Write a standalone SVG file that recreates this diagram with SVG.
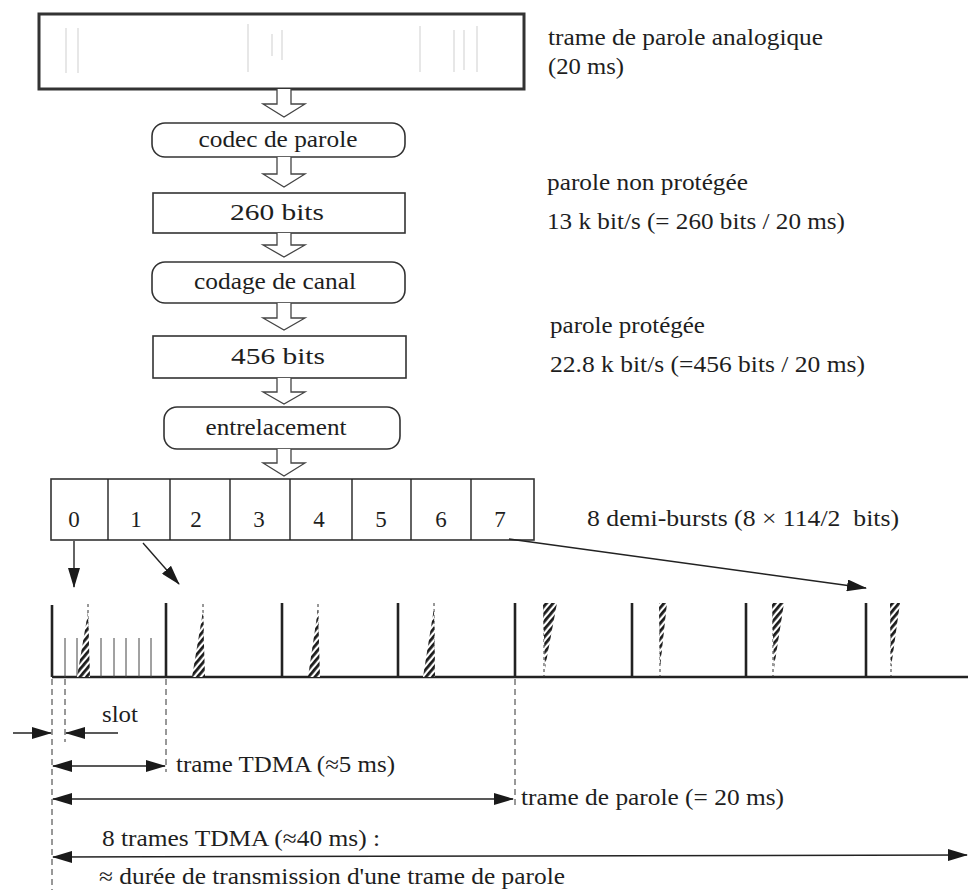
<svg xmlns="http://www.w3.org/2000/svg" width="968" height="890" viewBox="0 0 968 890">
<defs>
<style>
.t{font-family:'Liberation Serif','Times New Roman',Times,serif;font-size:23px;fill:#1e1e1e}
.box{fill:#fff;stroke:#333;stroke-width:1.6}
.hol{fill:#fff;stroke:#444;stroke-width:1.3;stroke-linejoin:miter}
.ln{stroke:#222;stroke-width:1.4;fill:none}
.tall{stroke:#222;stroke-width:2.6}
.thin{stroke:#444;stroke-width:1}
.dash{stroke:#333;stroke-width:1;stroke-dasharray:6 4;fill:none}
.dsh{stroke:#333;stroke-width:1;stroke-dasharray:3 3}
.faint{stroke:#cfcfcf;stroke-width:1}
</style>
<marker id="ah" viewBox="0 0 20 12" markerWidth="20" markerHeight="12" refX="19" refY="6" orient="auto-start-reverse" markerUnits="userSpaceOnUse">
<path d="M0,0 L20,6 L0,12 z" fill="#1a1a1a"/>
</marker>
<pattern id="hatch" patternUnits="userSpaceOnUse" width="5" height="5" patternTransform="rotate(40)">
<rect width="5" height="5" fill="#fff"/>
<rect width="2.8" height="5" fill="#1a1a1a"/>
</pattern>
</defs>
<rect width="968" height="890" fill="#fff"/>

<g id="trame-analogique">
<rect x="39" y="14" width="485" height="75" fill="#fff" stroke="#333" stroke-width="3"/>
<g class="faint">
<line x1="66" y1="28" x2="66" y2="73"/><line x1="78" y1="28" x2="78" y2="73"/>
<line x1="248" y1="24" x2="248" y2="72"/><line x1="272" y1="34" x2="272" y2="56"/><line x1="282" y1="30" x2="282" y2="60"/>
<line x1="420" y1="26" x2="420" y2="72"/><line x1="454" y1="30" x2="454" y2="72"/><line x1="464" y1="30" x2="464" y2="70"/><line x1="477" y1="26" x2="477" y2="72"/>
</g>
<text class="t" x="548" y="45" textLength="275" lengthAdjust="spacingAndGlyphs">trame de parole analogique</text>
<text class="t" x="548" y="74" textLength="76" lengthAdjust="spacingAndGlyphs">(20 ms)</text>
</g>

<g id="codec">
<rect class="box" x="152" y="123" width="253" height="34" rx="13"/>
<text class="t" x="278" y="147" text-anchor="middle" textLength="159" lengthAdjust="spacingAndGlyphs">codec de parole</text>
</g>

<g id="bits260">
<rect class="box" x="153" y="193" width="252" height="40"/>
<text class="t" x="277" y="220" text-anchor="middle" textLength="94" lengthAdjust="spacingAndGlyphs">260 bits</text>
<text class="t" x="547" y="190" textLength="201" lengthAdjust="spacingAndGlyphs">parole non protégée</text>
<text class="t" x="547" y="229" textLength="298" lengthAdjust="spacingAndGlyphs">13 k bit/s (= 260 bits / 20 ms)</text>
</g>

<g id="codage">
<rect class="box" x="152" y="262" width="253" height="41" rx="13"/>
<text class="t" x="275" y="289" text-anchor="middle" textLength="162" lengthAdjust="spacingAndGlyphs">codage de canal</text>
</g>

<g id="bits456">
<rect class="box" x="153" y="336" width="253" height="42"/>
<text class="t" x="278" y="364" text-anchor="middle" textLength="94" lengthAdjust="spacingAndGlyphs">456 bits</text>
<text class="t" x="550" y="333" textLength="155" lengthAdjust="spacingAndGlyphs">parole protégée</text>
<text class="t" x="550" y="372" textLength="315" lengthAdjust="spacingAndGlyphs">22.8 k bit/s (=456 bits / 20 ms)</text>
</g>

<g id="entrelacement">
<rect class="box" x="164" y="407" width="236" height="42" rx="13"/>
<text class="t" x="276" y="435" text-anchor="middle" textLength="141" lengthAdjust="spacingAndGlyphs">entrelacement</text>
</g>

<g id="demi-bursts">
<rect class="box" x="51" y="479" width="483" height="61"/>
<g class="ln">
<line x1="108" y1="479" x2="108" y2="540"/><line x1="170" y1="479" x2="170" y2="540"/>
<line x1="230" y1="479" x2="230" y2="540"/><line x1="290" y1="479" x2="290" y2="540"/>
<line x1="352" y1="479" x2="352" y2="540"/><line x1="411" y1="479" x2="411" y2="540"/>
<line x1="471" y1="479" x2="471" y2="540"/>
</g>
<g class="t" text-anchor="middle">
<text x="74" y="527">0</text><text x="136" y="527">1</text><text x="196" y="527">2</text><text x="259" y="527">3</text>
<text x="319" y="527">4</text><text x="381" y="527">5</text><text x="441" y="527">6</text><text x="500" y="527">7</text>
</g>
<text class="t" x="587" y="526" xml:space="preserve" textLength="312" lengthAdjust="spacingAndGlyphs">8 demi-bursts (8 × 114/2  bits)</text>
</g>

<g id="timeline">
<line x1="52" y1="677" x2="968" y2="677" stroke="#222" stroke-width="2.6"/>
<g class="tall">
<line x1="52" y1="605" x2="52" y2="677"/><line x1="166" y1="603" x2="166" y2="677"/>
<line x1="282" y1="603" x2="282" y2="677"/><line x1="398" y1="603" x2="398" y2="677"/>
<line x1="515" y1="603" x2="515" y2="677"/><line x1="632" y1="603" x2="632" y2="677"/>
<line x1="746" y1="603" x2="746" y2="677"/><line x1="866" y1="603" x2="866" y2="677"/>
</g>
<g class="thin">
<line x1="65" y1="638" x2="65" y2="677"/><line x1="77" y1="638" x2="77" y2="677"/>
<line x1="101" y1="638" x2="101" y2="677"/><line x1="114" y1="638" x2="114" y2="677"/>
<line x1="126" y1="638" x2="126" y2="677"/><line x1="139" y1="638" x2="139" y2="677"/>
<line x1="151" y1="638" x2="151" y2="677"/>
</g>
<g id="bursts">
<line class="dsh" x1="88" y1="604" x2="88" y2="677"/>
<polygon points="77,677 90,677 88,612" fill="url(#hatch)"/>
<line class="dsh" x1="203" y1="604" x2="203" y2="677"/>
<polygon points="192,677 205,677 203,611" fill="url(#hatch)"/>
<line class="dsh" x1="318" y1="604" x2="318" y2="677"/>
<polygon points="308,677 320,677 318,609" fill="url(#hatch)"/>
<line class="dsh" x1="434" y1="603" x2="434" y2="677"/>
<polygon points="423,677 435,677 434,608" fill="url(#hatch)"/>
<line class="dsh" x1="544" y1="603" x2="544" y2="677"/>
<polygon points="543,603 557,603 545,668" fill="url(#hatch)"/>
<line class="dsh" x1="660" y1="603" x2="660" y2="677"/>
<polygon points="659,603 667,603 660,668" fill="url(#hatch)"/>
<line class="dsh" x1="773" y1="603" x2="773" y2="677"/>
<polygon points="772,603 784,603 774,668" fill="url(#hatch)"/>
<line class="dsh" x1="891" y1="603" x2="891" y2="677"/>
<polygon points="890,603 900,603 891,668" fill="url(#hatch)"/>
</g>
</g>

<g id="connectors">
<path class="hol" d="M277,89 L277,104 L263,104 L284,117 L305,104 L291,104 L291,89"/>
<path class="hol" d="M277,157 L277,174 L263,174 L284,187 L305,174 L291,174 L291,157"/>
<path class="hol" d="M277,233 L277,245 L263,245 L284,257 L305,245 L291,245 L291,233"/>
<path class="hol" d="M277,303 L277,318 L263,318 L284,330 L305,318 L291,318 L291,303"/>
<path class="hol" d="M277,378 L277,392 L263,392 L284,404 L305,392 L291,392 L291,378"/>
<path class="hol" d="M277,449 L277,463 L263,463 L284,476 L305,463 L291,463 L291,449"/>
<line class="ln" x1="74" y1="541" x2="74" y2="587" marker-end="url(#ah)"/>
<line class="ln" x1="143" y1="543" x2="179" y2="584" marker-end="url(#ah)"/>
<line class="ln" x1="509" y1="539" x2="866" y2="588" marker-end="url(#ah)"/>
</g>

<g id="dimensions">
<line class="dash" x1="52" y1="679" x2="52" y2="890"/>
<line class="dash" x1="65" y1="679" x2="65" y2="742"/>
<line class="dash" x1="166" y1="679" x2="166" y2="772"/>
<line class="dash" x1="515" y1="679" x2="515" y2="808"/>
<line class="ln" x1="13" y1="733" x2="51" y2="733" marker-end="url(#ah)"/>
<line class="ln" x1="118" y1="733" x2="66" y2="733" marker-end="url(#ah)"/>
<text class="t" x="102" y="722" textLength="36" lengthAdjust="spacingAndGlyphs">slot</text>
<line class="ln" x1="53" y1="766" x2="165" y2="766" marker-start="url(#ah)" marker-end="url(#ah)"/>
<text class="t" x="176" y="772" textLength="219" lengthAdjust="spacingAndGlyphs">trame TDMA (≈5 ms)</text>
<line class="ln" x1="53" y1="799" x2="513" y2="799" marker-start="url(#ah)" marker-end="url(#ah)"/>
<text class="t" x="521" y="805" textLength="263" lengthAdjust="spacingAndGlyphs">trame de parole (= 20 ms)</text>
<text class="t" x="102" y="846" textLength="278" lengthAdjust="spacingAndGlyphs">8 trames TDMA (≈40 ms) :</text>
<line class="ln" x1="53" y1="857" x2="967" y2="855" marker-start="url(#ah)" marker-end="url(#ah)"/>
<text class="t" x="99" y="884" textLength="466" lengthAdjust="spacingAndGlyphs">≈ durée de transmission d'une trame de parole</text>
</g>
</svg>
